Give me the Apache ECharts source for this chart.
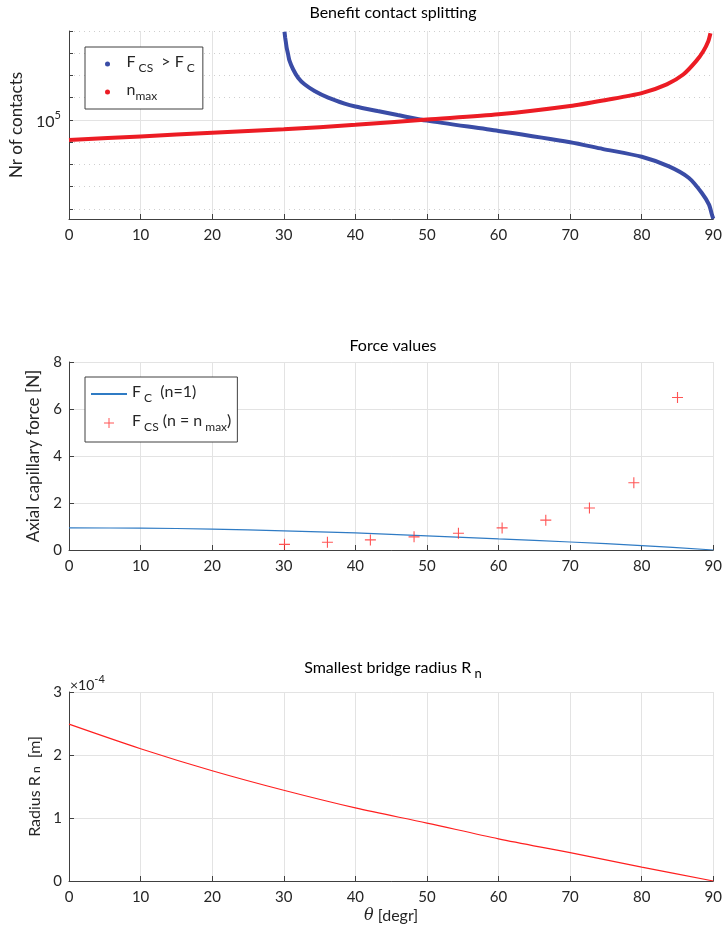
<!DOCTYPE html>
<html>
<head>
<meta charset="utf-8">
<script src="https://cdn.jsdelivr.net/npm/echarts@6/dist/echarts.min.js"></script>
<style>
  html, body { margin: 0; padding: 0; background: #fff; }
  #chart { width: 725px; height: 938px; }
</style>
</head>
<body>
<div id="chart"></div>
<script>
// x axis ticks (angle, degrees)
const angleTicks = [0, 10, 20, 30, 40, 50, 60, 70, 80, 90];

// panel 1: nr of contacts, F_CS > F_C  (blue)
const csAngle = [30.1, 30.2, 30.3, 30.4, 30.6, 30.8, 31.3, 32.0, 32.9, 34.3, 36.2, 38.5, 40, 43.1, 45.9, 50, 60, 70, 74.5, 80, 83.8, 86.6, 88.4, 89.4, 89.8, 90];
const csCount = [9.3e8, 5.0e8, 3.0e8, 1.8e8, 9.1e7, 4.6e7, 1.9e7, 7.9e6, 4.0e6, 2.0e6, 1.0e6, 5.4e5, 4.0e5, 2.5e5, 1.66e5, 9.3e4, 3.2e4, 1.0e4, 5.0e3, 2.2e3, 810, 245, 52, 15.5, 5.6, 3.6];
// panel 1: n_max (red)
const nmaxAngle = [0, 10, 20, 30, 40, 50, 60, 70, 75, 80, 83.5, 85.8, 87.6, 88.6, 89.3, 89.6];
const nmaxCount = [1.26e4, 1.82e4, 2.63e4, 3.8e4, 6.0e4, 1.05e5, 1.78e5, 4.2e5, 7.9e5, 1.6e6, 4.0e6, 1.1e7, 4.4e7, 1.23e8, 3.5e8, 7.9e8];

// panel 2: force values
const fcAngle = [0, 10, 20, 30, 40, 50, 60, 70, 80, 90];
const fcForce = [0.94, 0.93, 0.89, 0.81, 0.73, 0.60, 0.47, 0.34, 0.19, 0];
const fcsAngle = [30.1, 36.1, 42.1, 48.2, 54.4, 60.5, 66.6, 72.7, 78.9, 85.0];
const fcsForce = [0.24, 0.33, 0.43, 0.56, 0.71, 0.94, 1.27, 1.79, 2.86, 6.49];

// panel 3: smallest bridge radius
const rnAngle = [0, 10, 20, 30, 40, 50, 60, 70, 80, 90];
const rnRadius = [2.49e-4, 2.10e-4, 1.75e-4, 1.44e-4, 1.16e-4, 0.92e-4, 0.67e-4, 0.45e-4, 0.22e-4, 0];

const FONT = 'Lato';
const TXT = '#262626';
const AXC = '#404040';
const GRIDC = '#e3e3e3';
const RED = '#ff2b2b';

const pairs = (xs, ys) => xs.map((x, i) => [x, ys[i]]);

// rich text pieces for sub / superscripts
const rich = {
  n: { fontSize: 16, fontFamily: FONT, color: TXT, verticalAlign: 'bottom', padding: [0, 0, 4, 0] },
  s: { fontSize: 12, fontFamily: FONT, color: TXT, verticalAlign: 'bottom' },
  t: { fontSize: 16, fontFamily: FONT, color: TXT, verticalAlign: 'bottom' },
  p: { fontSize: 11, fontFamily: FONT, color: TXT, verticalAlign: 'bottom', padding: [0, 0, 9, 0] },
  th: { fontSize: 16, fontFamily: 'DejaVu Serif', fontStyle: 'italic', color: TXT }
};

function xAxisFor(gi, name) {
  return {
    type: 'value', gridIndex: gi,
    min: angleTicks[0], max: angleTicks[angleTicks.length - 1], interval: 10,
    axisLine: { onZero: false, lineStyle: { color: AXC } },
    axisTick: { inside: true, length: 5, lineStyle: { color: AXC } },
    axisLabel: { fontSize: 15, fontFamily: FONT, color: TXT, margin: 9 },
    splitLine: { show: true, lineStyle: { color: GRIDC } },
    name: name || '',
    nameLocation: 'middle', nameGap: 27,
    nameTextStyle: { rich: rich, fontSize: 16, fontFamily: FONT, color: TXT }
  };
}

const labels = {
  'F_CS > F_C': '{n|F}{s| CS}{n|  > F}{s| C}',
  'n_max': '{n|n}{s|max}',
  'F_C (n=1)': '{n|F}{s| C}{n|  (n=1)}',
  'F_CS (n = n_max)': '{n|F}{s| CS}{n| (n = n}{s| max}{n|)}'
};

const chart = echarts.init(document.getElementById('chart'));

const option = {
  animation: false,
  title: [
    { text: 'Benefit contact splitting', left: 393, top: 5, textAlign: 'center', padding: 0,
      textStyle: { fontSize: 16, fontWeight: 'normal', fontFamily: FONT, color: '#000' } },
    { text: 'Force values', left: 393, top: 338, textAlign: 'center', padding: 0,
      textStyle: { fontSize: 16, fontWeight: 'normal', fontFamily: FONT, color: '#000' } },
    { text: '{a|Smallest bridge radius R}{b| n}', left: 393, top: 660, textAlign: 'center', padding: 0,
      textStyle: { fontSize: 16, fontWeight: 'normal', fontFamily: FONT, color: '#000',
        rich: {
          a: { fontSize: 16, fontFamily: FONT, color: '#000', verticalAlign: 'bottom', padding: [0, 0, 4, 0] },
          b: { fontSize: 13, fontFamily: FONT, color: '#000', verticalAlign: 'bottom' }
        } } }
  ],
  graphic: [
    { type: 'text', x: 70, y: 674,
      style: { text: '{a|×10}{b|-4}', rich: {
        a: { fontSize: 14, fontFamily: FONT, fill: TXT, verticalAlign: 'bottom' },
        b: { fontSize: 11, fontFamily: FONT, fill: TXT, verticalAlign: 'bottom', padding: [0, 0, 7, 0] } } } }
  ],
  legend: [
    {
      left: 85, top: 47, orient: 'vertical',
      padding: [7, 8, 7, 20], itemGap: 8,
      itemWidth: 28, itemHeight: 5,
      borderColor: AXC, borderWidth: 1, backgroundColor: '#fff',
      data: [{ name: 'F_CS > F_C', icon: 'circle' }, { name: 'n_max', icon: 'circle' }],
      formatter: n => labels[n],
      textStyle: { rich: rich }
    },
    {
      left: 85, top: 377, orient: 'vertical',
      padding: [7, 6, 9, 5], itemGap: 9,
      itemWidth: 36, itemHeight: 10,
      borderColor: AXC, borderWidth: 1, backgroundColor: '#fff',
      data: [
        { name: 'F_C (n=1)', itemStyle: { opacity: 0 } },
        'F_CS (n = n_max)'
      ],
      formatter: n => labels[n],
      textStyle: { rich: rich }
    }
  ],
  grid: [
    { left: 69, right: 8, top: 31, height: 188 },
    { left: 69, right: 8, top: 362, height: 188 },
    { left: 69, right: 8, top: 692, height: 189 }
  ],
  xAxis: [xAxisFor(0), xAxisFor(1), xAxisFor(2, '{th|θ}{t| [degr]}')],
  yAxis: [
    {
      type: 'log', gridIndex: 0, logBase: 10,
      min: 3.5, max: 1e9, splitNumber: 9,
      axisLine: { show: true, lineStyle: { color: AXC } },
      axisTick: { inside: true, length: 4, lineStyle: { color: AXC } },
      axisLabel: {
        margin: 8,
        formatter: v => Math.abs(Math.log10(v) - 5) < 1e-6 ? '{t|10}{p|5}' : '',
        rich: rich
      },
      splitLine: { show: true, lineStyle: { color: '#cfcfcf', type: [1, 4] } },
      name: 'Nr of contacts', nameLocation: 'middle', nameGap: 42,
      nameTextStyle: { fontSize: 17, fontFamily: FONT, color: TXT }
    },
    {
      type: 'value', gridIndex: 1, min: 0, max: 8, interval: 2,
      axisLine: { show: true, lineStyle: { color: AXC } },
      axisTick: { show: true, inside: true, length: 5, lineStyle: { color: AXC } },
      axisLabel: { fontSize: 15, fontFamily: FONT, color: TXT, margin: 7 },
      splitLine: { show: true, lineStyle: { color: GRIDC } },
      name: 'Axial capillary force [N]', nameLocation: 'middle', nameGap: 24,
      nameTextStyle: { fontSize: 17, fontFamily: FONT, color: TXT }
    },
    {
      type: 'value', gridIndex: 2, min: 0, max: 3e-4, interval: 1e-4,
      axisLine: { show: true, lineStyle: { color: AXC } },
      axisTick: { show: true, inside: true, length: 5, lineStyle: { color: AXC } },
      axisLabel: { fontSize: 15, fontFamily: FONT, color: TXT, margin: 7,
        formatter: v => String(Math.round(v * 1e4)) },
      splitLine: { show: true, lineStyle: { color: GRIDC } },
      name: '{t|Radius R}{s| n}{t|  [m]}', nameLocation: 'middle', nameGap: 22,
      nameTextStyle: { rich: rich, fontSize: 17, fontFamily: FONT, color: TXT }
    }
  ],
  series: [
    {
      name: 'F_CS > F_C', type: 'line', xAxisIndex: 0, yAxisIndex: 0, silent: true,
      data: pairs(csAngle, csCount), smooth: 0.25,
      showSymbol: false, symbol: 'circle',
      lineStyle: { color: '#3a4ca6', width: 4 }, itemStyle: { color: '#3a4ca6' },
      markLine: {
        silent: true, symbol: 'none', label: { show: false },
        lineStyle: { color: GRIDC, type: 'solid', width: 1 },
        data: [{ yAxis: 1e5 }], z: 0
      },
      z: 2
    },
    {
      name: 'n_max', type: 'line', xAxisIndex: 0, yAxisIndex: 0, silent: true,
      data: pairs(nmaxAngle, nmaxCount), smooth: 0.25,
      showSymbol: false, symbol: 'circle',
      lineStyle: { color: '#ec1c24', width: 4 }, itemStyle: { color: '#ec1c24' },
      z: 3
    },
    {
      name: 'F_C (n=1)', type: 'line', xAxisIndex: 1, yAxisIndex: 1, silent: true,
      data: pairs(fcAngle, fcForce), smooth: 0.3, symbol: 'none',
      lineStyle: { color: '#2f7bc4', width: 1.2 }, itemStyle: { color: '#2f7bc4' }
    },
    {
      name: 'F_CS (n = n_max)', type: 'scatter', xAxisIndex: 1, yAxisIndex: 1,
      silent: true, emphasis: { disabled: true },
      data: pairs(fcsAngle, fcsForce),
      symbol: 'path://M0,4.5h10v1h-10z M4.5,0h1v10h-1z', symbolSize: 11, symbolKeepAspect: true,
      itemStyle: { color: RED }, z: 5
    },
    {
      name: 'Rn', type: 'line', xAxisIndex: 2, yAxisIndex: 2, silent: true,
      data: pairs(rnAngle, rnRadius), smooth: 0.3, symbol: 'none',
      lineStyle: { color: '#ff2020', width: 1.2 }
    }
  ]
};

chart.setOption(option);
</script>
</body>
</html>
